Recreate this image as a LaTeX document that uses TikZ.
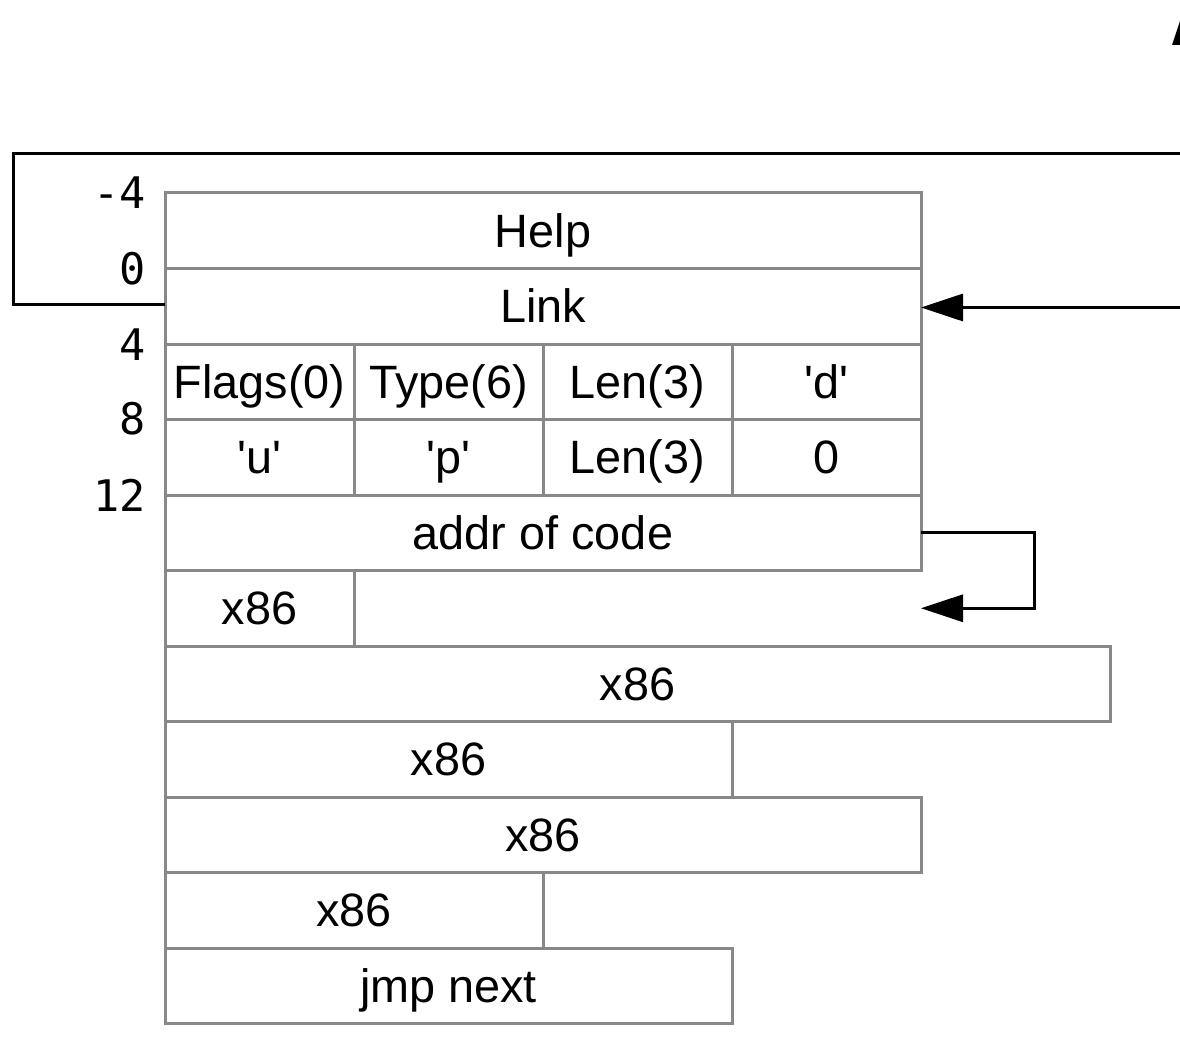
\documentclass[tikz,border=0pt]{standalone}
\usepackage{fontspec}
\setmainfont{Liberation Sans}
\newfontfamily\monofont{DejaVu Sans Mono}
\usetikzlibrary{arrows.meta}
\definecolor{cellgray}{RGB}{136,136,136}
\begin{document}
\begin{tikzpicture}[x=1pt,y=-1pt,
 cell/.style={draw=cellgray, line width=3pt, minimum height=75.5pt, inner sep=0pt, outer sep=0pt, anchor=north west, font=\fontsize{46.8}{50}\selectfont, text height=33.4pt, text depth=0pt},
 lbl/.style={anchor=east, inner sep=0pt, font=\monofont\fontsize{43.5}{47}\selectfont, text height=31pt, text depth=0pt},
 conn/.style={draw=black, line width=3pt, line join=miter},
 tip/.style={-{Triangle[length=42pt,width=27pt]}}]
\useasboundingbox (0,0) rectangle (1180,1059);
\clip (0,0) rectangle (1180,1059);
% cells
\node[cell, minimum width=756pt] (help) at (165,193) {Help};
\node[cell, minimum width=756pt] (link) at (165,268.5) {Link};
\node[cell, minimum width=189pt] (flags) at (165,344) {Flags(0)};
\node[cell, minimum width=189pt] (type) at (354,344) {Type(6)};
\node[cell, minimum width=189pt] (lena) at (543,344) {Len(3)};
\node[cell, minimum width=189pt] (chd) at (732,344) {\textquotesingle d\textquotesingle};
\node[cell, minimum width=189pt] (chu) at (165,419.5) {\textquotesingle u\textquotesingle};
\node[cell, minimum width=189pt] (chp) at (354,419.5) {\textquotesingle p\textquotesingle};
\node[cell, minimum width=189pt] (lenb) at (543,419.5) {Len(3)};
\node[cell, minimum width=189pt] (zero) at (732,419.5) {0};
\node[cell, minimum width=756pt] (addr) at (165,495) {addr of code};
\node[cell, minimum width=189pt] (xa) at (165,570.5) {x86};
\node[cell, minimum width=945pt] (xb) at (165,646) {x86};
\node[cell, minimum width=567pt] (xc) at (165,721.5) {x86};
\node[cell, minimum width=756pt] (xd) at (165,797) {x86};
\node[cell, minimum width=378pt] (xe) at (165,872.5) {x86};
\node[cell, minimum width=567pt] (jmp) at (165,948) {jmp next};
% offset labels
\node[lbl] (om4) at (146,193) {-4};
\node[lbl] (o0) at (146,268.5) {0};
\node[lbl] (o4) at (146,345) {4};
\node[lbl] (o8) at (146,419) {8};
\node[lbl] (o12) at (146,496) {12};
% connectors
\coordinate (topend) at (1200,154);
\draw[conn] (link.west) ++(0,-2) -- ++(-152,0) |- (topend);
\coordinate (linksrc) at (1200,307.5);
\draw[conn,tip] (linksrc) -- (link.east |- linksrc);
\coordinate (codetgt) at (921,608.25);
\draw[conn,tip] (addr.east) -- ++(113,0) |- (codetgt);
% partial arrowhead at top right
\fill (1172,45) -- (1200,45) -- (1186,3) -- cycle;
\end{tikzpicture}
\end{document}
